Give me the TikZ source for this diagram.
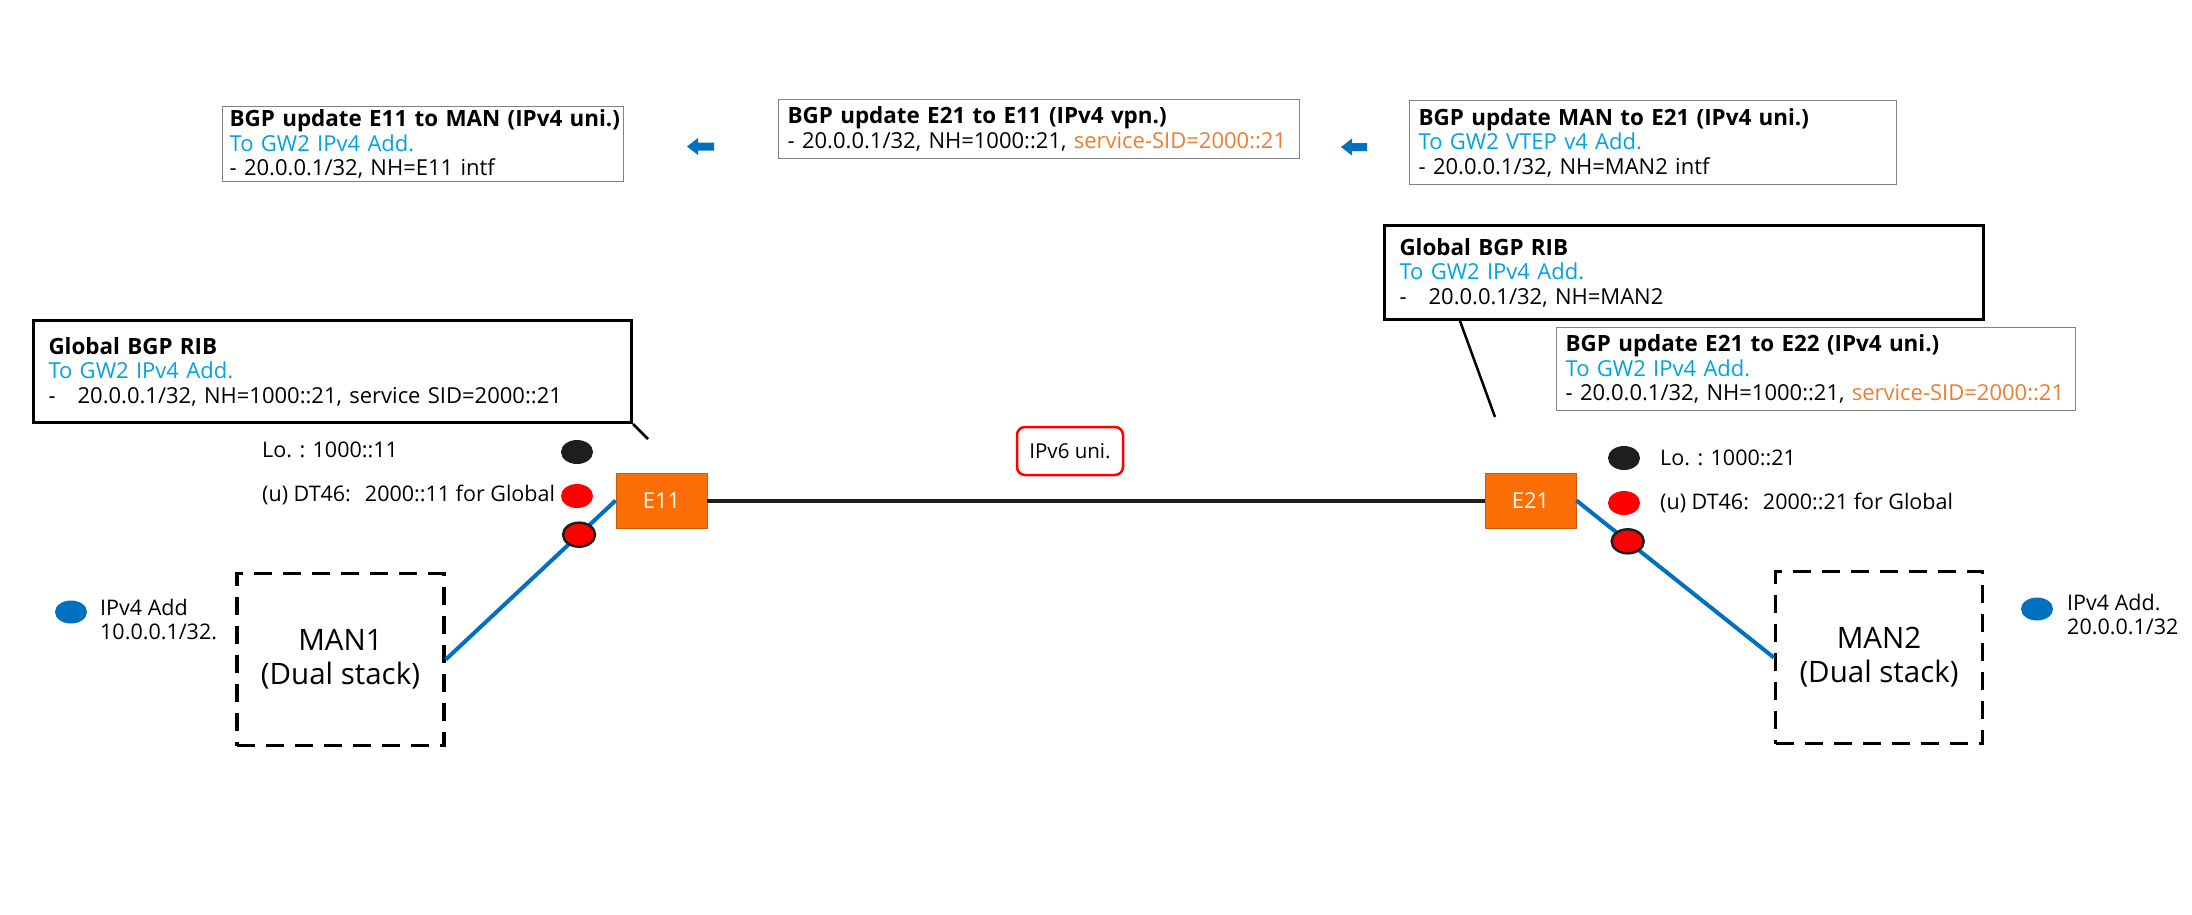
\documentclass[tikz,border=0pt]{standalone}
\usepackage{fontspec}
\setmainfont{Open Sans}
\usetikzlibrary{shapes.geometric}
\definecolor{tblue}{RGB}{0,163,224}
\definecolor{sorange}{RGB}{237,125,49}
\definecolor{eorange}{RGB}{250,110,5}
\definecolor{eborder}{RGB}{200,90,10}
\definecolor{lblue}{RGB}{0,112,192}
\definecolor{boxgray}{RGB}{130,130,130}
\definecolor{dotblack}{RGB}{30,30,30}
\definecolor{dotred}{RGB}{255,0,0}
\newcommand{\ttl}[1]{\mbox{\fontsize{22.4}{24.5}\selectfont\textbf{#1}}}
\begin{document}
\begin{tikzpicture}[x=1pt,y=-1pt,
  updbox/.style={draw=boxgray, line width=1.3pt, anchor=north west, align=left,
    inner xsep=9pt, inner ysep=0pt, font=\fontsize{22}{24.5}\selectfont},
  ribbox/.style={draw=black, line width=3pt, anchor=north west, align=left,
    inner xsep=15pt, inner ysep=0pt, font=\fontsize{22}{24.5}\selectfont},
  router/.style={draw=eborder, line width=0.8pt, fill=eorange, text=white,
    minimum width=91pt, minimum height=55pt, inner sep=0pt, font=\fontsize{22}{26}\selectfont},
  mannode/.style={draw=black, line width=3.5pt, dash pattern=on 18pt off 11pt,
    minimum width=207pt, minimum height=172pt, align=center, inner sep=0pt,
    font=\fontsize{29.5}{34}\selectfont},
  sdot/.style={ellipse, minimum width=32pt, minimum height=24pt, inner sep=0pt},
  lbl/.style={anchor=west, inner sep=0pt, font=\fontsize{21.5}{23.5}\selectfont, align=left},
  link/.style={line width=4pt, lblue},
  core/.style={line width=4pt, dotblack},
  callout/.style={line width=2.5pt, black},
  barrow/.style={fill=lblue}
]
\useasboundingbox (0,0) rectangle (2192,914);

% top update boxes
\node[updbox, minimum width=401pt, minimum height=75pt, text width=387pt, inner xsep=7pt] (upd1) at (222,106)
  {\ttl{BGP update E11 to MAN (IPv4 uni.)}\\\textcolor{tblue}{To GW2 IPv4 Add.}\\- 20.0.0.1/32, NH=E11 intf};
\node[updbox, minimum width=521pt, minimum height=59pt, text width=503pt] (upd2) at (778,99)
  {\ttl{BGP update E21 to E11 (IPv4 vpn.)}\\- 20.0.0.1/32, NH=1000::21, \textcolor{sorange}{service-SID=2000::21}};
\node[updbox, minimum width=487pt, minimum height=84pt, text width=469pt] (upd3) at (1409,100)
  {\ttl{BGP update MAN to E21 (IPv4 uni.)}\\\textcolor{tblue}{To GW2 VTEP v4 Add.}\\- 20.0.0.1/32, NH=MAN2 intf};

% blue block arrows
\fill[barrow] (687,146.5) -- (698,138) -- (698,142.5) -- (714,142.5) -- (714,150.5) -- (698,150.5) -- (698,155) -- cycle;
\fill[barrow] (1341,147) -- (1352,138.5) -- (1352,143) -- (1367,143) -- (1367,151) -- (1352,151) -- (1352,155.5) -- cycle;

% RIB boxes
\node[ribbox, minimum width=598pt, minimum height=102pt, text width=568pt] (ribL) at (32,319)
  {\ttl{Global BGP RIB}\\\textcolor{tblue}{To GW2 IPv4 Add.}\\-\hspace{22pt}20.0.0.1/32, NH=1000::21, service SID=2000::21};
\node[ribbox, minimum width=599pt, minimum height=94pt, text width=569pt] (ribR) at (1383,224)
  {\ttl{Global BGP RIB}\\\textcolor{tblue}{To GW2 IPv4 Add.}\\-\hspace{22pt}20.0.0.1/32, NH=MAN2};
\node[updbox, minimum width=519pt, minimum height=83pt, text width=501pt] (upd4) at (1556,327)
  {\ttl{BGP update E21 to E22 (IPv4 uni.)}\\\textcolor{tblue}{To GW2 IPv4 Add.}\\- 20.0.0.1/32, NH=1000::21, \textcolor{sorange}{service-SID=2000::21}};

% routers
\node[router] (E11) at (661.5,500.5) {E11};
\node[router] (E21) at (1530.5,500.5) {E21};

% MAN boxes
\node[mannode] (MAN1) at (340.5,659.5) {MAN1\\(Dual stack)};
\node[mannode] (MAN2) at (1879,657.5) {MAN2\\(Dual stack)};

% IPv6 label
\node[draw=dotred, line width=2.5pt, rounded corners=8pt, minimum width=106pt, minimum height=48pt,
  inner sep=0pt, font=\fontsize{20.5}{23}\selectfont] (v6) at (1070,451) {IPv6 uni.};

% links
\draw[core] (E11.east) -- (E21.west);
\draw[link] (E11.west) -- (MAN1.east) node[sdot, pos=0.215, fill=dotred, draw=dotblack, line width=2.5pt] (pL) {};
\draw[link] (E21.east) -- (MAN2.west) node[sdot, pos=0.26, fill=dotred, draw=dotblack, line width=2.5pt] (pR) {};

% callouts
\coordinate (cl2) at (648,439);
\draw[callout] (ribL.south east) -- (cl2);
\coordinate (cr1) at ([xshift=77pt]ribR.south west);
\coordinate (cr2) at (1495,417);
\draw[callout] (cr1) -- (cr2);

% loopback / SID dots and labels
\node[sdot, fill=dotblack] (loL) at (577,452) {};
\node[sdot, fill=dotred] (sidL) at (577,496) {};
\node[lbl] (loLt) at (262,450) {Lo. : 1000::11};
\node[lbl] (sidLt) at (262,495) {(u) DT46:\hspace{14pt}2000::11 for Global};

\node[sdot, fill=dotblack] (loR) at (1624,458) {};
\node[sdot, fill=dotred] (sidR) at (1624,503) {};
\node[lbl] (loRt) at (1660,458) {Lo. : 1000::21};
\node[lbl] (sidRt) at (1660,503) {(u) DT46:\hspace{14pt}2000::21 for Global};

% IPv4 address dots
\node[sdot, fill=lblue, minimum height=23pt] (v4L) at (71,612) {};
\node[lbl, anchor=north west] (v4Lt) at (100,599) {IPv4 Add\\10.0.0.1/32.};
\node[sdot, fill=lblue, minimum height=23pt] (v4R) at (2037,609) {};
\node[lbl, anchor=north west] (v4Rt) at (2067,594) {IPv4 Add.\\20.0.0.1/32};
\end{tikzpicture}
\end{document}
